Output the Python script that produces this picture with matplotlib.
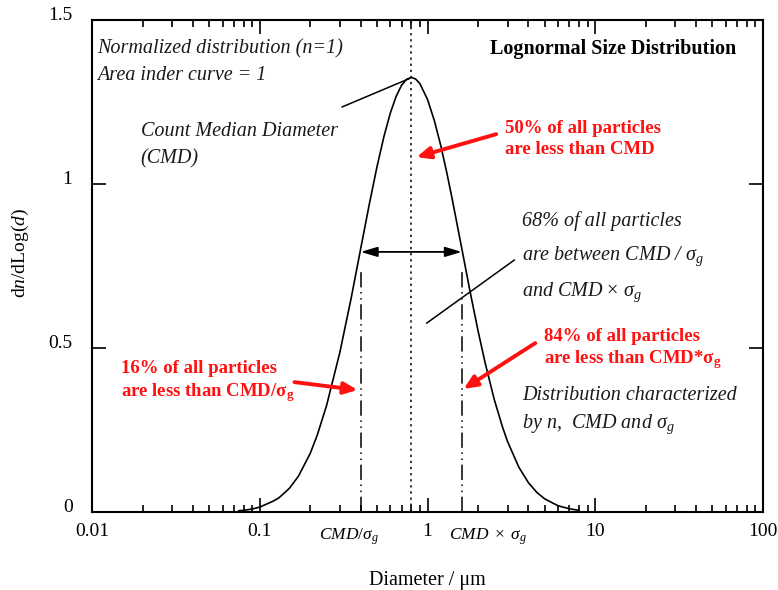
import matplotlib
matplotlib.use("Agg")
import matplotlib.pyplot as plt
from matplotlib.ticker import FixedLocator, LogLocator, NullFormatter

plt.rcParams['font.family'] = ['Liberation Serif', 'DejaVu Serif']
plt.rcParams['mathtext.fontset'] = 'custom'
plt.rcParams['mathtext.rm'] = 'Liberation Serif'
plt.rcParams['mathtext.it'] = 'Liberation Serif:italic'
plt.rcParams['mathtext.bf'] = 'Liberation Serif:bold'

# Lognormal number distribution, n = 1
diameter = [0.075, 0.08, 0.09, 0.1, 0.12, 0.13, 0.15, 0.17, 0.2, 0.22, 0.25,
            0.3, 0.35, 0.4, 0.45, 0.5, 0.55, 0.6, 0.65, 0.7, 0.75, 0.8, 0.85,
            0.9, 1.0, 1.1, 1.2, 1.3, 1.4, 1.6, 1.8, 2.0, 2.2, 2.5, 2.8, 3.0,
            3.5, 4.0, 4.5, 5.0, 6.0, 7.0, 8.0]
dn_dlogd = [0.004, 0.005, 0.009, 0.015, 0.033, 0.043, 0.072, 0.109, 0.179,
            0.234, 0.324, 0.486, 0.650, 0.804, 0.939, 1.053, 1.145, 1.216,
            1.267, 1.301, 1.319, 1.325, 1.320, 1.306, 1.258, 1.192, 1.117,
            1.037, 0.957, 0.804, 0.668, 0.553, 0.457, 0.343, 0.259, 0.215,
            0.137, 0.089, 0.059, 0.040, 0.019, 0.010, 0.005]
cmd = 0.8
sigma_g = 2.0
width_level = 0.793

x_ticks = [0.01, 0.1, 1, 10, 100]
x_tick_labels = ['0.01', '0.1', '1', '10', '100']
y_ticks = [0, 0.5, 1, 1.5]
y_tick_labels = ['0', '0.5', '1', '1.5']

fig = plt.figure(figsize=(7.78, 5.90), dpi=100)
ax = fig.add_axes([0.1183, 0.1322, 0.8624, 0.8339])

ax.plot(diameter, dn_dlogd, color='black', lw=1.2)
ax.set_xscale('log')
ax.set_xlim(0.01, 100)
ax.set_ylim(0, 1.5)

ax.xaxis.set_major_locator(FixedLocator(x_ticks))
ax.set_xticklabels(x_tick_labels)
ax.xaxis.set_minor_locator(LogLocator(base=10, subs=range(2, 10)))
ax.xaxis.set_minor_formatter(NullFormatter())
ax.set_yticks(y_ticks)
ax.set_yticklabels(y_tick_labels)
ax.tick_params(which='both', direction='in', top=True, right=True,
               labelsize=14, width=1.2)
ax.tick_params(which='major', length=10)
ax.tick_params(which='minor', length=5)
ax.tick_params(axis='x', pad=8)
ax.tick_params(axis='y', pad=14)
for lbl in ax.get_yticklabels():
    lbl.set_va('baseline')
for s in ax.spines.values():
    s.set_linewidth(1.5)

ax.set_xlabel('Diameter / \u03bcm', fontsize=14.5, labelpad=22)
ax.set_ylabel(r'd$n$/dLog($d$)', fontsize=14)
ax.yaxis.set_label_coords(-0.091, 0.526)

# median and +/- one geometric standard deviation
lo = cmd / sigma_g
hi = cmd * sigma_g
ax.axvline(cmd, color='black', lw=1.1, ls=(0, (1.5, 2.5)))
for xv in (lo, hi):
    ax.plot([xv, xv], [0, width_level - 0.06], color='black', lw=1.1,
            ls=(0, (10, 3, 1, 3, 1, 3)))
ax.annotate('', xy=(lo, width_level), xytext=(hi, width_level),
            arrowprops=dict(arrowstyle='<|-|>,head_length=1.0,head_width=0.3',
                            color='black', lw=1.3, shrinkA=0, shrinkB=0))

# labels under the width markers
ax.text(lo * 1.28, -0.045, r'$\mathit{CMD/}\sigma_g$', ha='right', va='top',
        fontsize=12.5)
ax.text(hi * 0.84, -0.045, r'$\mathit{CMD}\ \times\ \sigma_g$', ha='left',
        va='top', fontsize=12.5)

it = dict(fontsize=14.5, fontstyle='italic', color='#1a1a1a', va='baseline')
ax.text(0.0107, 1.399, 'Normalized distribution (n=1)', **it)
ax.text(0.0107, 1.317, 'Area inder curve = 1', **it)
ax.text(0.0195, 1.146, 'Count Median Diameter', **it)
ax.text(0.0195, 1.064, '(CMD)', **it)
ax.plot([0.31, cmd * 0.98], [1.235, 1.322], color='black', lw=1.1)

ax.text(69, 1.396, 'Lognormal Size Distribution', ha='right', va='baseline',
        fontsize=14.5, fontweight='bold')

ax.text(3.68, 0.872, '68% of all particles', **it)
ax.text(3.68, 0.768, r'are between CMD / $\sigma_g$', **it)
ax.text(3.68, 0.659, r'and CMD $\times$ $\sigma_g$', **it)
ax.plot([0.99, 3.29], [0.576, 0.768], color='black', lw=1.1)

ax.text(3.68, 0.341, 'Distribution characterized', **it)
ax.text(3.68, 0.256, r'by n,  CMD and $\sigma_g$', **it)

red = dict(fontsize=13.5, fontweight='bold', color='#ff1111', va='baseline')
ax.text(2.91, 1.155, '50% of all particles', **red)
ax.text(2.91, 1.091, 'are less than CMD', **red)
ax.annotate('', xy=(0.86, 1.082), xytext=(2.57, 1.152),
            arrowprops=dict(arrowstyle='-|>,head_length=0.8,head_width=0.35',
                            color='#ff1111', lw=2.8, shrinkA=0, shrinkB=0))

ax.text(4.97, 0.521, '84% of all particles', **red)
ax.text(4.97, 0.454, r'are less than CMD*$\mathbf{\sigma_g}$', **red)
ax.annotate('', xy=(1.64, 0.375), xytext=(4.39, 0.515),
            arrowprops=dict(arrowstyle='-|>,head_length=0.8,head_width=0.35',
                            color='#ff1111', lw=2.8, shrinkA=0, shrinkB=0))

ax.text(0.0149, 0.424, '16% of all particles', **red)
ax.text(0.0149, 0.354, r'are less than CMD/$\mathbf{\sigma_g}$', **red)
ax.annotate('', xy=(0.383, 0.372), xytext=(0.161, 0.396),
            arrowprops=dict(arrowstyle='-|>,head_length=0.8,head_width=0.35',
                            color='#ff1111', lw=2.8, shrinkA=0, shrinkB=0))

fig.savefig('out.png', dpi=100)
